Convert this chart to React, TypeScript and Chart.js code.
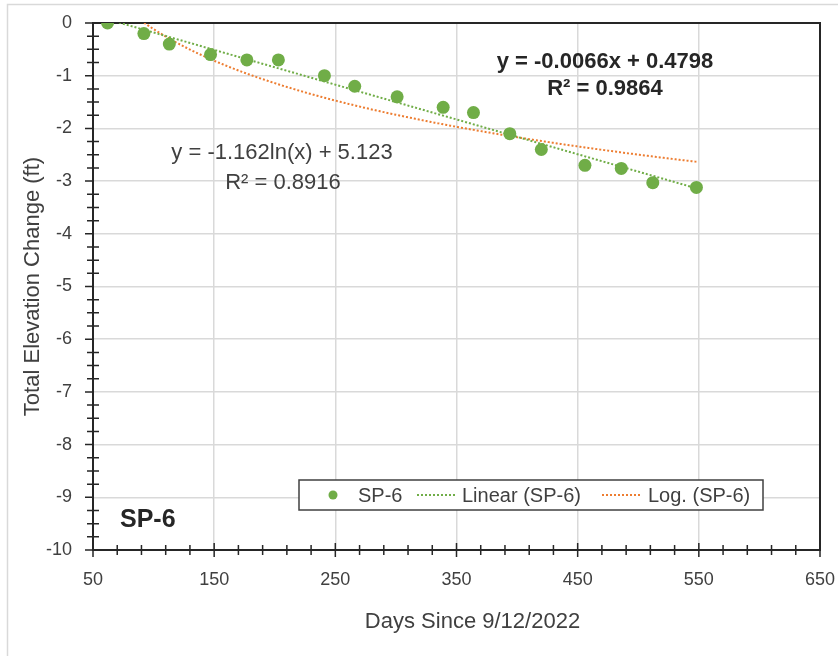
import React, { useEffect, useRef } from 'react';
import { Chart, registerables } from 'chart.js';
Chart.register(...registerables);

// Observed data (days since 9/12/2022, total elevation change in ft)
const days = [62, 92, 113, 147, 177, 203, 241, 266, 301, 339, 364, 394, 420, 456, 486, 512, 548];
const elevation = [0, -0.2, -0.4, -0.6, -0.7, -0.7, -1.0, -1.2, -1.4, -1.6, -1.7, -2.1, -2.4, -2.7, -2.76, -3.03, -3.12];

// Trendline coefficients (as drawn)
const linearCoef = [-0.0066, 0.4798]; // slope, intercept
const logCoef = [-1.48, 6.70]; // a*ln(x) + b

// Text labels
const seriesName = 'SP-6';
const linearName = 'Linear (SP-6)';
const logName = 'Log. (SP-6)';
const linearEq = ['y = -0.0066x + 0.4798', 'R² = 0.9864'];
const logEq = ['y = -1.162ln(x) + 5.123', 'R² = 0.8916'];
const xTitle = 'Days Since 9/12/2022';
const yTitle = 'Total Elevation Change (ft)';
const xTicks = [50, 150, 250, 350, 450, 550, 650];
const yTicks = [0, -1, -2, -3, -4, -5, -6, -7, -8, -9, -10];

const GREEN = '#70AD47';
const ORANGE = '#ED7D31';
const FONT = '"Liberation Sans", Arial, sans-serif';
const TXT = '#404040';

export default function App() {
  const ref = useRef<HTMLCanvasElement>(null);
  useEffect(() => {
    const x0 = days[0];
    const x1 = days[days.length - 1];
    const linPts = [x0, x1].map((x) => ({ x, y: linearCoef[0] * x + linearCoef[1] }));
    const logPts: { x: number; y: number }[] = [];
    for (let x = x0; x <= x1; x += 1) logPts.push({ x, y: logCoef[0] * Math.log(x) + logCoef[1] });
    if (logPts[logPts.length - 1].x !== x1) logPts.push({ x: x1, y: logCoef[0] * Math.log(x1) + logCoef[1] });

    const deco = {
      id: 'deco',
      beforeDraw(chart: any) {
        const c = chart.ctx;
        c.save();
        c.strokeStyle = '#d9d9d9';
        c.lineWidth = 1.5;
        c.beginPath();
        c.moveTo(7.5, 656);
        c.lineTo(7.5, 4.5);
        c.lineTo(838, 4.5);
        c.stroke();
        c.restore();
      },
      beforeDatasetsDraw(chart: any) {
        const c = chart.ctx;
        const a = chart.chartArea;
        const xs = chart.scales.x;
        const ys = chart.scales.y;
        c.save();
        c.strokeStyle = '#262626';
        c.lineWidth = 2;
        c.strokeRect(a.left, a.top, a.right - a.left, a.bottom - a.top);
        c.lineWidth = 1.5;
        c.beginPath();
        for (let v = 50; v <= 650; v += 20) {
          const px = xs.getPixelForValue(v);
          const major = (v - 50) % 100 === 0;
          const h = major ? 7 : 5;
          c.moveTo(px, a.bottom - h);
          c.lineTo(px, a.bottom + h);
        }
        for (let i = 0; i <= 40; i++) {
          const v = -i * 0.25;
          const py = ys.getPixelForValue(v);
          const major = i % 4 === 0;
          const w = major ? 8 : 6;
          c.moveTo(a.left - w, py);
          c.lineTo(a.left + (major ? 0 : w), py);
        }
        c.stroke();
        c.restore();
      },
      afterDraw(chart: any) {
        const c = chart.ctx;
        c.save();
        c.fillStyle = TXT;
        c.textAlign = 'center';
        c.textBaseline = 'middle';
        c.font = `22px ${FONT}`;
        c.fillText(xTitle, 472.5, 622);
        c.save();
        c.translate(33, 286.5);
        c.rotate(-Math.PI / 2);
        c.fillText(yTitle, 0, 0);
        c.restore();
        // log equation
        c.fillText(logEq[0], 282, 153);
        c.fillText(logEq[1], 283, 183);
        // linear equation
        c.fillStyle = '#262626';
        c.font = `bold 22px ${FONT}`;
        c.fillText(linearEq[0], 605, 62);
        c.fillText(linearEq[1], 605, 89);
        // SP-6 label
        c.font = `bold 25px ${FONT}`;
        c.textAlign = 'left';
        c.fillText(seriesName, 120, 520);
        // legend
        c.fillStyle = '#ffffff';
        c.fillRect(299, 480, 464, 30);
        c.strokeStyle = '#404040';
        c.lineWidth = 1.5;
        c.strokeRect(299, 480, 464, 30);
        c.fillStyle = GREEN;
        c.beginPath();
        c.arc(333, 495, 4.5, 0, Math.PI * 2);
        c.fill();
        c.lineWidth = 2;
        c.setLineDash([2, 2]);
        c.strokeStyle = GREEN;
        c.beginPath();
        c.moveTo(417, 495);
        c.lineTo(455, 495);
        c.stroke();
        c.strokeStyle = ORANGE;
        c.beginPath();
        c.moveTo(602, 495);
        c.lineTo(640, 495);
        c.stroke();
        c.setLineDash([]);
        c.fillStyle = TXT;
        c.font = `20px ${FONT}`;
        c.fillText(seriesName, 358, 496);
        c.fillText(linearName, 462, 496);
        c.fillText(logName, 648, 496);
        c.restore();
      },
    };

    const chart = new Chart(ref.current!, {
      type: 'scatter',
      data: {
        datasets: [
          {
            label: seriesName,
            data: days.map((d, i) => ({ x: d, y: elevation[i] })),
            backgroundColor: GREEN,
            borderColor: GREEN,
            pointRadius: 6.5,
            pointBorderWidth: 0,
            showLine: false,
            order: 0,
          },
          {
            label: linearName,
            data: linPts,
            showLine: true,
            borderColor: GREEN,
            borderWidth: 2,
            borderDash: [2, 2],
            pointRadius: 0,
            order: 1,
          },
          {
            label: logName,
            data: logPts,
            showLine: true,
            borderColor: ORANGE,
            borderWidth: 2,
            borderDash: [2, 2],
            pointRadius: 0,
            order: 2,
          },
        ],
      },
      options: {
        responsive: false,
        animation: false,
        devicePixelRatio: 1,
        layout: { padding: { top: 23, right: 18, left: 0, bottom: 0 } },
        plugins: { legend: { display: false }, tooltip: { enabled: false } },
        scales: {
          x: {
            type: 'linear',
            min: 50,
            max: 650,
            afterBuildTicks: (s: any) => {
              s.ticks = xTicks.map((v) => ({ value: v }));
            },
            afterFit: (s: any) => {
              s.height = 106;
              s.paddingLeft = 0;
              s.paddingRight = 0;
              s.paddingTop = 0;
              s.paddingBottom = 0;
            },
            ticks: { font: { size: 18, family: FONT }, color: TXT, padding: 19, maxRotation: 0 },
            grid: { color: '#d9d9d9', lineWidth: 1.5, drawTicks: false },
            border: { display: false },
          },
          y: {
            type: 'linear',
            min: -10,
            max: 0,
            afterBuildTicks: (s: any) => {
              s.ticks = yTicks.map((v) => ({ value: v }));
            },
            afterFit: (s: any) => {
              s.width = 93;
              s.paddingLeft = 0;
              s.paddingRight = 0;
              s.paddingTop = 0;
              s.paddingBottom = 0;
            },
            ticks: { font: { size: 18, family: FONT }, color: TXT, padding: 21 },
            grid: { color: '#d9d9d9', lineWidth: 1.5, drawTicks: false },
            border: { display: false },
          },
        },
      },
      plugins: [deco],
    });
    return () => chart.destroy();
  }, []);

  return (
    <div style={{ position: 'fixed', left: 0, top: 0, width: 838, height: 656, background: '#fff' }}>
      <canvas ref={ref} width={838} height={656} style={{ width: 838, height: 656 }} />
    </div>
  );
}
